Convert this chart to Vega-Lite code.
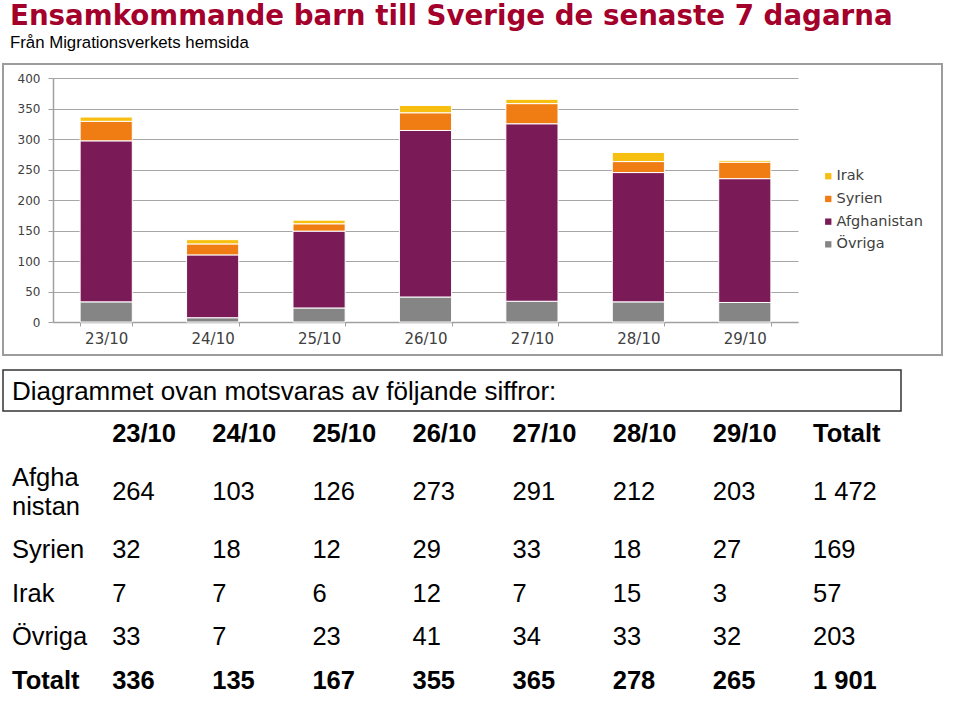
{
  "$schema": "https://vega.github.io/schema/vega-lite/v6.json",
  "background": "white",
  "padding": {"left": 2, "top": 3, "right": 0, "bottom": 0},
  "bounds": "flush",
  "spacing": 15,
  "title": {
    "text": "Ensamkommande barn till Sverige de senaste 7 dagarna",
    "subtitle": "Från Migrationsverkets hemsida",
    "anchor": "start",
    "frame": "group",
    "font": "DejaVu Sans",
    "fontSize": 27.7,
    "fontWeight": "bold",
    "color": "#A3002B",
    "subtitleFont": "Liberation Sans",
    "subtitleFontSize": 16.8,
    "subtitleColor": "#000000",
    "subtitlePadding": 4,
    "offset": 11.5,
    "dx": 7
  },
  "datasets": {
    "staplar": [
      {"datum": "23/10", "land": "Övriga", "antal": 33},
      {"datum": "23/10", "land": "Afghanistan", "antal": 264},
      {"datum": "23/10", "land": "Syrien", "antal": 32},
      {"datum": "23/10", "land": "Irak", "antal": 7},
      {"datum": "24/10", "land": "Övriga", "antal": 7},
      {"datum": "24/10", "land": "Afghanistan", "antal": 103},
      {"datum": "24/10", "land": "Syrien", "antal": 18},
      {"datum": "24/10", "land": "Irak", "antal": 7},
      {"datum": "25/10", "land": "Övriga", "antal": 23},
      {"datum": "25/10", "land": "Afghanistan", "antal": 126},
      {"datum": "25/10", "land": "Syrien", "antal": 12},
      {"datum": "25/10", "land": "Irak", "antal": 6},
      {"datum": "26/10", "land": "Övriga", "antal": 41},
      {"datum": "26/10", "land": "Afghanistan", "antal": 273},
      {"datum": "26/10", "land": "Syrien", "antal": 29},
      {"datum": "26/10", "land": "Irak", "antal": 12},
      {"datum": "27/10", "land": "Övriga", "antal": 34},
      {"datum": "27/10", "land": "Afghanistan", "antal": 291},
      {"datum": "27/10", "land": "Syrien", "antal": 33},
      {"datum": "27/10", "land": "Irak", "antal": 7},
      {"datum": "28/10", "land": "Övriga", "antal": 33},
      {"datum": "28/10", "land": "Afghanistan", "antal": 212},
      {"datum": "28/10", "land": "Syrien", "antal": 18},
      {"datum": "28/10", "land": "Irak", "antal": 15},
      {"datum": "29/10", "land": "Övriga", "antal": 32},
      {"datum": "29/10", "land": "Afghanistan", "antal": 203},
      {"datum": "29/10", "land": "Syrien", "antal": 27},
      {"datum": "29/10", "land": "Irak", "antal": 3}
    ],
    "tabell": [
      {"rad": "huvud", "kol": "23/10", "text": "23/10"},
      {"rad": "huvud", "kol": "24/10", "text": "24/10"},
      {"rad": "huvud", "kol": "25/10", "text": "25/10"},
      {"rad": "huvud", "kol": "26/10", "text": "26/10"},
      {"rad": "huvud", "kol": "27/10", "text": "27/10"},
      {"rad": "huvud", "kol": "28/10", "text": "28/10"},
      {"rad": "huvud", "kol": "29/10", "text": "29/10"},
      {"rad": "huvud", "kol": "Totalt", "text": "Totalt"},
      {"rad": "Afghanistan", "kol": "etikett", "text": "Afgha\nnistan"},
      {"rad": "Afghanistan", "kol": "23/10", "text": "264"},
      {"rad": "Afghanistan", "kol": "24/10", "text": "103"},
      {"rad": "Afghanistan", "kol": "25/10", "text": "126"},
      {"rad": "Afghanistan", "kol": "26/10", "text": "273"},
      {"rad": "Afghanistan", "kol": "27/10", "text": "291"},
      {"rad": "Afghanistan", "kol": "28/10", "text": "212"},
      {"rad": "Afghanistan", "kol": "29/10", "text": "203"},
      {"rad": "Afghanistan", "kol": "Totalt", "text": "1 472"},
      {"rad": "Syrien", "kol": "etikett", "text": "Syrien"},
      {"rad": "Syrien", "kol": "23/10", "text": "32"},
      {"rad": "Syrien", "kol": "24/10", "text": "18"},
      {"rad": "Syrien", "kol": "25/10", "text": "12"},
      {"rad": "Syrien", "kol": "26/10", "text": "29"},
      {"rad": "Syrien", "kol": "27/10", "text": "33"},
      {"rad": "Syrien", "kol": "28/10", "text": "18"},
      {"rad": "Syrien", "kol": "29/10", "text": "27"},
      {"rad": "Syrien", "kol": "Totalt", "text": "169"},
      {"rad": "Irak", "kol": "etikett", "text": "Irak"},
      {"rad": "Irak", "kol": "23/10", "text": "7"},
      {"rad": "Irak", "kol": "24/10", "text": "7"},
      {"rad": "Irak", "kol": "25/10", "text": "6"},
      {"rad": "Irak", "kol": "26/10", "text": "12"},
      {"rad": "Irak", "kol": "27/10", "text": "7"},
      {"rad": "Irak", "kol": "28/10", "text": "15"},
      {"rad": "Irak", "kol": "29/10", "text": "3"},
      {"rad": "Irak", "kol": "Totalt", "text": "57"},
      {"rad": "Övriga", "kol": "etikett", "text": "Övriga"},
      {"rad": "Övriga", "kol": "23/10", "text": "33"},
      {"rad": "Övriga", "kol": "24/10", "text": "7"},
      {"rad": "Övriga", "kol": "25/10", "text": "23"},
      {"rad": "Övriga", "kol": "26/10", "text": "41"},
      {"rad": "Övriga", "kol": "27/10", "text": "34"},
      {"rad": "Övriga", "kol": "28/10", "text": "33"},
      {"rad": "Övriga", "kol": "29/10", "text": "32"},
      {"rad": "Övriga", "kol": "Totalt", "text": "203"},
      {"rad": "Totalt", "kol": "etikett", "text": "Totalt"},
      {"rad": "Totalt", "kol": "23/10", "text": "336"},
      {"rad": "Totalt", "kol": "24/10", "text": "135"},
      {"rad": "Totalt", "kol": "25/10", "text": "167"},
      {"rad": "Totalt", "kol": "26/10", "text": "355"},
      {"rad": "Totalt", "kol": "27/10", "text": "365"},
      {"rad": "Totalt", "kol": "28/10", "text": "278"},
      {"rad": "Totalt", "kol": "29/10", "text": "265"},
      {"rad": "Totalt", "kol": "Totalt", "text": "1 901"}
    ]
  },
  "vconcat": [
    {
      "width": 939,
      "height": 291,
      "view": {"stroke": "#9C9C9C", "strokeWidth": 2},
      "data": {"name": "staplar"},
      "transform": [
        {"calculate": "indexof(['Övriga', 'Afghanistan', 'Syrien', 'Irak'], datum.land)", "as": "ordning"}
      ],
      "mark": {"type": "bar", "stroke": "white", "strokeWidth": 1},
      "encoding": {
        "x": {
          "field": "datum",
          "type": "ordinal",
          "sort": null,
          "scale": {"range": [50, 795], "paddingInner": 0.51, "paddingOuter": 0.255},
          "axis": {
            "title": null,
            "labelAngle": 0,
            "tickBand": "extent",
            "offset": -33,
            "grid": false,
            "domainColor": "#A0A0A0",
            "domainWidth": 1.5,
            "tickColor": "#A0A0A0",
            "tickSize": 4,
            "labelFont": "DejaVu Sans",
            "labelFontSize": 15,
            "labelColor": "#404040",
            "labelPadding": 5
          }
        },
        "y": {
          "field": "antal",
          "type": "quantitative",
          "stack": "zero",
          "scale": {"domain": [0, 400], "range": [258, 14], "nice": false},
          "axis": {
            "title": null,
            "values": [0, 50, 100, 150, 200, 250, 300, 350, 400],
            "offset": -50,
            "grid": true,
            "gridColor": "#A6A6A6",
            "domainColor": "#A0A0A0",
            "domainWidth": 1.5,
            "tickColor": "#A0A0A0",
            "tickSize": 5,
            "labelFont": "DejaVu Sans",
            "labelFontSize": 12,
            "labelColor": "#404040",
            "labelPadding": 8
          }
        },
        "order": {"field": "ordning", "type": "quantitative", "sort": "ascending"},
        "color": {
          "field": "land",
          "type": "nominal",
          "scale": {
            "domain": ["Irak", "Syrien", "Afghanistan", "Övriga"],
            "range": ["#F7BF0F", "#F07C14", "#7A1A57", "#858585"]
          },
          "legend": {
            "title": null,
            "orient": "none",
            "legendX": 818,
            "legendY": 105,
            "symbolType": "square",
            "symbolSize": 40,
            "symbolStrokeWidth": 0,
            "labelFont": "DejaVu Sans",
            "labelFontSize": 14.5,
            "labelColor": "#404040",
            "labelOffset": 1,
            "rowPadding": 7.7
          }
        }
      }
    },
    {
      "width": 898,
      "height": 41,
      "view": {"stroke": "#333333", "strokeWidth": 1.5},
      "data": {"values": [{"k": "rubrik", "text": "Diagrammet ovan motsvaras av följande siffror:"}]},
      "mark": {"type": "text", "align": "left", "baseline": "middle", "dx": 9, "dy": 1, "font": "Liberation Sans", "fontSize": 26, "color": "#000000"},
      "encoding": {
        "x": {"field": "k", "type": "nominal", "bandPosition": 0, "scale": {"type": "band", "paddingInner": 0, "paddingOuter": 0}, "axis": null},
        "text": {"field": "text"}
      }
    },
    {
      "width": 819,
      "height": 263,
      "view": {"stroke": null},
      "data": {"name": "tabell"},
      "encoding": {
        "x": {
          "field": "kol",
          "type": "nominal",
          "scale": {"type": "point", "domain": ["etikett", "23/10", "24/10", "25/10", "26/10", "27/10", "28/10", "29/10", "Totalt"], "padding": 0.09},
          "axis": null
        },
        "y": {
          "field": "rad",
          "type": "nominal",
          "scale": {"type": "point", "domain": ["huvud", "_1", "_2", "_3", "Afghanistan", "_5", "_6", "_7", "Syrien", "_9", "_10", "Irak", "_12", "_13", "Övriga", "_15", "_16", "Totalt"], "padding": 0.55},
          "axis": null
        },
        "text": {"field": "text"}
      },
      "layer": [
        {
          "transform": [{"filter": {"not": {"field": "rad", "oneOf": ["huvud", "Totalt"]}}}, {"filter": {"not": {"field": "text", "equal": "Afgha\nnistan"}}}],
          "mark": {"type": "text", "align": "left", "baseline": "middle", "font": "Liberation Sans", "fontSize": 25.5, "color": "#000000"}
        },
        {
          "transform": [{"filter": {"field": "text", "equal": "Afgha\nnistan"}}],
          "mark": {"type": "text", "align": "left", "baseline": "middle", "font": "Liberation Sans", "fontSize": 25.5, "color": "#000000", "lineBreak": "\n", "lineHeight": 29, "dy": -14.5}
        },
        {
          "transform": [{"filter": {"field": "rad", "oneOf": ["huvud", "Totalt"]}}],
          "mark": {"type": "text", "align": "left", "baseline": "middle", "font": "Liberation Sans", "fontSize": 25.5, "fontWeight": "bold", "color": "#000000"}
        }
      ]
    }
  ],
  "config": {
    "view": {"stroke": null},
    "font": "Liberation Sans"
  }
}
